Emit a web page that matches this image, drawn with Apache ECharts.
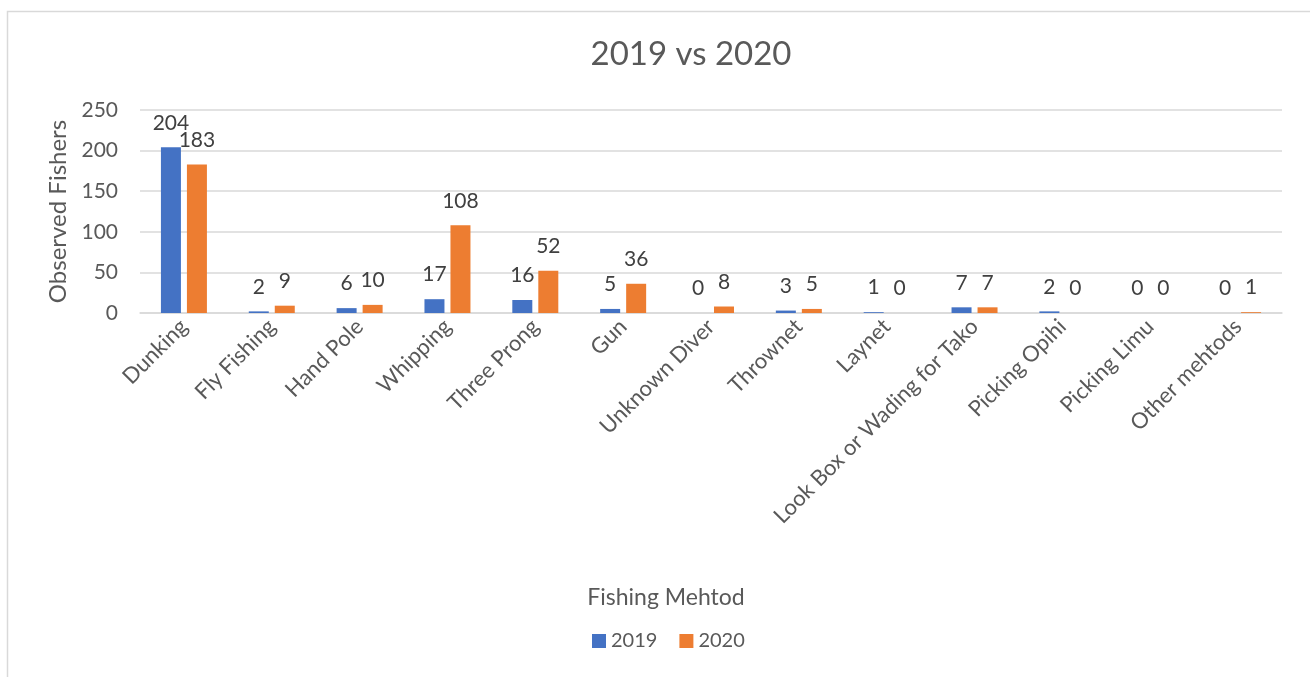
<!DOCTYPE html>
<html>
<head>
<meta charset="utf-8">
<script src="https://cdn.jsdelivr.net/npm/echarts@6/dist/echarts.min.js"></script>
<style>
  html, body { margin: 0; padding: 0; background: #fff; }
  #main { width: 1310px; height: 677px; }
</style>
</head>
<body>
<div id="main"></div>
<script>
const methods = ["Dunking", "Fly Fishing", "Hand Pole", "Whipping", "Three Prong", "Gun",
  "Unknown Diver", "Thrownet", "Laynet", "Look Box or Wading for Tako",
  "Picking Opihi", "Picking Limu", "Other mehtods"];
const values2019 = [204, 2, 6, 17, 16, 5, 0, 3, 1, 7, 2, 0, 0];
const values2020 = [183, 9, 10, 108, 52, 36, 8, 5, 0, 7, 0, 0, 1];
const yTicks = [0, 50, 100, 150, 200, 250];

const font = "Lato, 'Open Sans', sans-serif";
const myChart = echarts.init(document.getElementById("main"));

const labelStyle = {
  show: true,
  position: "top",
  distance: 14,
  color: "#404040",
  fontSize: 21,
  fontFamily: font
};

myChart.setOption({
  animation: false,
  title: {
    text: "2019 vs 2020",
    left: 686,
    textAlign: "center",
    top: 33,
    textStyle: { color: "#595959", fontSize: 33, fontWeight: "normal", fontFamily: font }
  },
  graphic: [
    {
      type: "rect",
      shape: { x: 7.5, y: 11.5, width: 1400, height: 800 },
      style: { fill: "none", stroke: "#d9d9d9", lineWidth: 1.5 },
      silent: true
    },
    {
      type: "text",
      x: 666,
      y: 598,
      style: {
        text: "Fishing Mehtod",
        fill: "#595959",
        fontSize: 23,
        fontFamily: font,
        align: "center",
        verticalAlign: "middle"
      },
      silent: true
    }
  ],
  legend: {
    data: ["2019", "2020"],
    bottom: 21,
    left: 587,
    itemWidth: 14,
    itemHeight: 14,
    itemGap: 22,
    icon: "rect",
    textStyle: { color: "#595959", fontSize: 20, fontFamily: font }
  },
  grid: { left: 140, right: 28, top: 110, bottom: 364 },
  xAxis: {
    type: "category",
    data: methods,
    axisLine: { lineStyle: { color: "#d9d9d9", width: 1.5 } },
    axisTick: { show: false },
    axisLabel: { rotate: 45, interval: 0, color: "#595959", fontSize: 22, fontFamily: font, margin: 10 }
  },
  yAxis: {
    type: "value",
    min: yTicks[0],
    max: yTicks[yTicks.length - 1],
    interval: 50,
    name: "Observed Fishers",
    nameLocation: "middle",
    nameGap: 62,
    nameTextStyle: { color: "#595959", fontSize: 24, fontFamily: font },
    axisLine: { show: false },
    axisTick: { show: false },
    axisLabel: { color: "#595959", fontSize: 21, fontFamily: font, margin: 22 },
    splitLine: { lineStyle: { color: "#d9d9d9", width: 1.5 } }
  },
  series: [
    {
      name: "2019",
      type: "bar",
      data: values2019,
      barWidth: 20,
      barGap: "30%",
      itemStyle: { color: "#4472c4" },
      label: labelStyle
    },
    {
      name: "2020",
      type: "bar",
      data: values2020,
      barWidth: 20,
      itemStyle: { color: "#ed7d31" },
      label: labelStyle
    }
  ]
});

window.onresize = () => {
  myChart.resize();
};
</script>
</body>
</html>
